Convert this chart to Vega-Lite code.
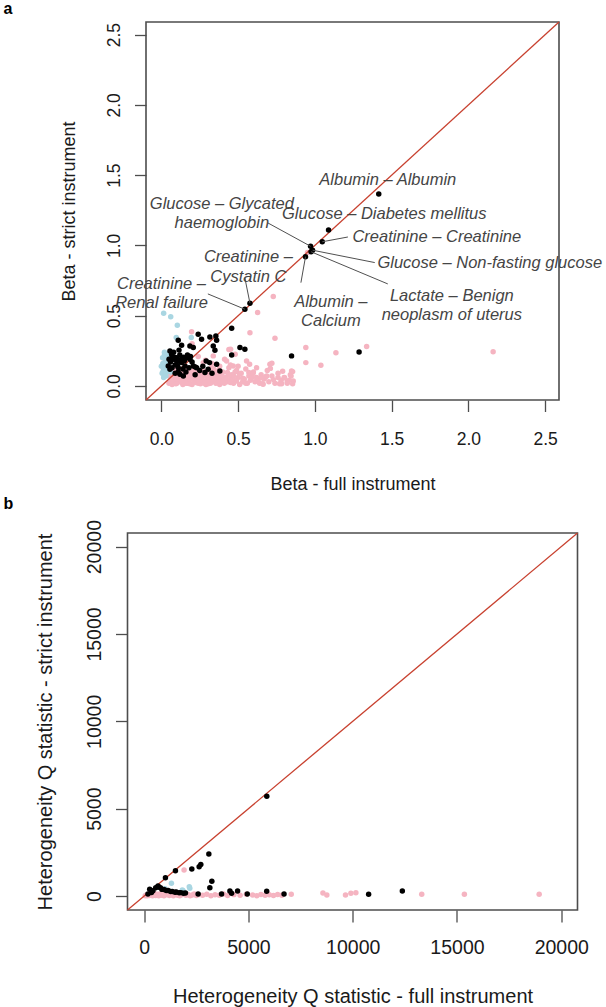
{
  "$schema": "https://vega.github.io/schema/vega-lite/v6.json",
  "background": "white",
  "padding": {"left": 2.5, "top": 0, "right": 0, "bottom": 0},
  "columns": 1,
  "bounds": "flush",
  "center": true,
  "spacing": 133,
  "config": {
    "font": "Liberation Sans",
    "view": {"stroke": "#4d4d4d", "strokeWidth": 1.6},
    "axis": {"grid": false, "domain": false, "tickColor": "#4d4d4d", "tickWidth": 1.3, "labelColor": "#1a1a1a", "titleColor": "#1a1a1a", "titleFontWeight": "normal", "labelFont": "Liberation Sans", "titleFont": "Liberation Sans", "labelOverlap": false, "labelFlush": false}
  },
  "datasets": {
    "a_points": [
      {"beta_full":0.05,"beta_strict":0.02,"group":"Full only"},{"beta_full":0.06,"beta_strict":0.05,"group":"Full only"},{"beta_full":0.07,"beta_strict":0.01,"group":"Full only"},{"beta_full":0.08,"beta_strict":0.04,"group":"Full only"},{"beta_full":0.09,"beta_strict":0.08,"group":"Full only"},{"beta_full":0.10,"beta_strict":0.02,"group":"Full only"},{"beta_full":0.11,"beta_strict":0.06,"group":"Full only"},{"beta_full":0.12,"beta_strict":0.03,"group":"Full only"},{"beta_full":0.13,"beta_strict":0.09,"group":"Full only"},{"beta_full":0.14,"beta_strict":0.01,"group":"Full only"},{"beta_full":0.15,"beta_strict":0.05,"group":"Full only"},{"beta_full":0.16,"beta_strict":0.07,"group":"Full only"},{"beta_full":0.17,"beta_strict":0.02,"group":"Full only"},{"beta_full":0.18,"beta_strict":0.04,"group":"Full only"},{"beta_full":0.19,"beta_strict":0.10,"group":"Full only"},{"beta_full":0.20,"beta_strict":0.01,"group":"Full only"},{"beta_full":0.21,"beta_strict":0.06,"group":"Full only"},{"beta_full":0.22,"beta_strict":0.03,"group":"Full only"},{"beta_full":0.23,"beta_strict":0.08,"group":"Full only"},{"beta_full":0.24,"beta_strict":0.02,"group":"Full only"},{"beta_full":0.25,"beta_strict":0.05,"group":"Full only"},{"beta_full":0.26,"beta_strict":0.11,"group":"Full only"},{"beta_full":0.27,"beta_strict":0.03,"group":"Full only"},{"beta_full":0.28,"beta_strict":0.07,"group":"Full only"},{"beta_full":0.29,"beta_strict":0.01,"group":"Full only"},{"beta_full":0.30,"beta_strict":0.04,"group":"Full only"},{"beta_full":0.31,"beta_strict":0.09,"group":"Full only"},{"beta_full":0.32,"beta_strict":0.02,"group":"Full only"},{"beta_full":0.33,"beta_strict":0.06,"group":"Full only"},{"beta_full":0.34,"beta_strict":0.12,"group":"Full only"},{"beta_full":0.35,"beta_strict":0.03,"group":"Full only"},{"beta_full":0.36,"beta_strict":0.05,"group":"Full only"},{"beta_full":0.37,"beta_strict":0.08,"group":"Full only"},{"beta_full":0.38,"beta_strict":0.01,"group":"Full only"},{"beta_full":0.39,"beta_strict":0.04,"group":"Full only"},{"beta_full":0.40,"beta_strict":0.10,"group":"Full only"},{"beta_full":0.41,"beta_strict":0.02,"group":"Full only"},{"beta_full":0.42,"beta_strict":0.06,"group":"Full only"},{"beta_full":0.43,"beta_strict":0.03,"group":"Full only"},{"beta_full":0.44,"beta_strict":0.13,"group":"Full only"},{"beta_full":0.45,"beta_strict":0.05,"group":"Full only"},{"beta_full":0.46,"beta_strict":0.08,"group":"Full only"},{"beta_full":0.47,"beta_strict":0.02,"group":"Full only"},{"beta_full":0.48,"beta_strict":0.04,"group":"Full only"},{"beta_full":0.49,"beta_strict":0.11,"group":"Full only"},{"beta_full":0.50,"beta_strict":0.06,"group":"Full only"},{"beta_full":0.51,"beta_strict":0.01,"group":"Full only"},{"beta_full":0.52,"beta_strict":0.09,"group":"Full only"},{"beta_full":0.53,"beta_strict":0.03,"group":"Full only"},{"beta_full":0.54,"beta_strict":0.05,"group":"Full only"},{"beta_full":0.55,"beta_strict":0.12,"group":"Full only"},{"beta_full":0.56,"beta_strict":0.02,"group":"Full only"},{"beta_full":0.57,"beta_strict":0.07,"group":"Full only"},{"beta_full":0.58,"beta_strict":0.04,"group":"Full only"},{"beta_full":0.60,"beta_strict":0.10,"group":"Full only"},{"beta_full":0.61,"beta_strict":0.03,"group":"Full only"},{"beta_full":0.62,"beta_strict":0.06,"group":"Full only"},{"beta_full":0.64,"beta_strict":0.02,"group":"Full only"},{"beta_full":0.65,"beta_strict":0.08,"group":"Full only"},{"beta_full":0.67,"beta_strict":0.05,"group":"Full only"},{"beta_full":0.69,"beta_strict":0.11,"group":"Full only"},{"beta_full":0.70,"beta_strict":0.03,"group":"Full only"},{"beta_full":0.72,"beta_strict":0.07,"group":"Full only"},{"beta_full":0.74,"beta_strict":0.02,"group":"Full only"},{"beta_full":0.76,"beta_strict":0.09,"group":"Full only"},{"beta_full":0.78,"beta_strict":0.04,"group":"Full only"},{"beta_full":0.80,"beta_strict":0.06,"group":"Full only"},{"beta_full":0.82,"beta_strict":0.02,"group":"Full only"},{"beta_full":0.84,"beta_strict":0.08,"group":"Full only"},
      {"beta_full":0.055,"beta_strict":0.075,"group":"Full only"},{"beta_full":0.065,"beta_strict":0.11,"group":"Full only"},{"beta_full":0.075,"beta_strict":0.03,"group":"Full only"},{"beta_full":0.085,"beta_strict":0.065,"group":"Full only"},{"beta_full":0.095,"beta_strict":0.015,"group":"Full only"},{"beta_full":0.105,"beta_strict":0.095,"group":"Full only"},{"beta_full":0.115,"beta_strict":0.045,"group":"Full only"},{"beta_full":0.125,"beta_strict":0.07,"group":"Full only"},{"beta_full":0.135,"beta_strict":0.025,"group":"Full only"},{"beta_full":0.145,"beta_strict":0.085,"group":"Full only"},{"beta_full":0.155,"beta_strict":0.035,"group":"Full only"},{"beta_full":0.165,"beta_strict":0.11,"group":"Full only"},{"beta_full":0.175,"beta_strict":0.06,"group":"Full only"},{"beta_full":0.185,"beta_strict":0.015,"group":"Full only"},{"beta_full":0.195,"beta_strict":0.075,"group":"Full only"},{"beta_full":0.205,"beta_strict":0.045,"group":"Full only"},{"beta_full":0.215,"beta_strict":0.12,"group":"Full only"},{"beta_full":0.225,"beta_strict":0.025,"group":"Full only"},{"beta_full":0.235,"beta_strict":0.055,"group":"Full only"},{"beta_full":0.245,"beta_strict":0.09,"group":"Full only"},{"beta_full":0.255,"beta_strict":0.015,"group":"Full only"},{"beta_full":0.265,"beta_strict":0.065,"group":"Full only"},{"beta_full":0.275,"beta_strict":0.105,"group":"Full only"},{"beta_full":0.285,"beta_strict":0.035,"group":"Full only"},{"beta_full":0.295,"beta_strict":0.075,"group":"Full only"},{"beta_full":0.305,"beta_strict":0.015,"group":"Full only"},{"beta_full":0.315,"beta_strict":0.055,"group":"Full only"},{"beta_full":0.325,"beta_strict":0.13,"group":"Full only"},{"beta_full":0.335,"beta_strict":0.04,"group":"Full only"},{"beta_full":0.345,"beta_strict":0.085,"group":"Full only"},{"beta_full":0.355,"beta_strict":0.02,"group":"Full only"},{"beta_full":0.365,"beta_strict":0.065,"group":"Full only"},{"beta_full":0.375,"beta_strict":0.115,"group":"Full only"},{"beta_full":0.385,"beta_strict":0.03,"group":"Full only"},{"beta_full":0.395,"beta_strict":0.075,"group":"Full only"},{"beta_full":0.41,"beta_strict":0.045,"group":"Full only"},{"beta_full":0.43,"beta_strict":0.095,"group":"Full only"},{"beta_full":0.45,"beta_strict":0.025,"group":"Full only"},{"beta_full":0.47,"beta_strict":0.07,"group":"Full only"},{"beta_full":0.49,"beta_strict":0.035,"group":"Full only"},{"beta_full":0.51,"beta_strict":0.085,"group":"Full only"},{"beta_full":0.53,"beta_strict":0.055,"group":"Full only"},{"beta_full":0.55,"beta_strict":0.02,"group":"Full only"},{"beta_full":0.57,"beta_strict":0.095,"group":"Full only"},{"beta_full":0.59,"beta_strict":0.06,"group":"Full only"},{"beta_full":0.63,"beta_strict":0.035,"group":"Full only"},{"beta_full":0.66,"beta_strict":0.015,"group":"Full only"},{"beta_full":0.68,"beta_strict":0.065,"group":"Full only"},{"beta_full":0.71,"beta_strict":0.125,"group":"Full only"},{"beta_full":0.73,"beta_strict":0.045,"group":"Full only"},{"beta_full":0.77,"beta_strict":0.015,"group":"Full only"},{"beta_full":0.79,"beta_strict":0.105,"group":"Full only"},
      {"beta_full":0.06,"beta_strict":0.09,"group":"Full only"},{"beta_full":0.08,"beta_strict":0.12,"group":"Full only"},{"beta_full":0.10,"beta_strict":0.05,"group":"Full only"},{"beta_full":0.12,"beta_strict":0.11,"group":"Full only"},{"beta_full":0.14,"beta_strict":0.06,"group":"Full only"},{"beta_full":0.16,"beta_strict":0.02,"group":"Full only"},{"beta_full":0.18,"beta_strict":0.09,"group":"Full only"},{"beta_full":0.20,"beta_strict":0.07,"group":"Full only"},{"beta_full":0.22,"beta_strict":0.10,"group":"Full only"},{"beta_full":0.24,"beta_strict":0.04,"group":"Full only"},{"beta_full":0.26,"beta_strict":0.08,"group":"Full only"},{"beta_full":0.28,"beta_strict":0.02,"group":"Full only"},{"beta_full":0.30,"beta_strict":0.11,"group":"Full only"},{"beta_full":0.32,"beta_strict":0.07,"group":"Full only"},{"beta_full":0.34,"beta_strict":0.05,"group":"Full only"},{"beta_full":0.36,"beta_strict":0.10,"group":"Full only"},{"beta_full":0.38,"beta_strict":0.07,"group":"Full only"},{"beta_full":0.40,"beta_strict":0.03,"group":"Full only"},{"beta_full":0.44,"beta_strict":0.08,"group":"Full only"},{"beta_full":0.48,"beta_strict":0.10,"group":"Full only"},
      {"beta_full":0.197,"beta_strict":0.386,"group":"Full only"},{"beta_full":0.729,"beta_strict":0.636,"group":"Full only"},{"beta_full":0.627,"beta_strict":0.522,"group":"Full only"},{"beta_full":0.577,"beta_strict":0.379,"group":"Full only"},{"beta_full":0.740,"beta_strict":0.339,"group":"Full only"},{"beta_full":0.451,"beta_strict":0.261,"group":"Full only"},{"beta_full":0.555,"beta_strict":0.178,"group":"Full only"},{"beta_full":0.707,"beta_strict":0.154,"group":"Full only"},{"beta_full":0.620,"beta_strict":0.130,"group":"Full only"},{"beta_full":0.848,"beta_strict":0.107,"group":"Full only"},{"beta_full":0.859,"beta_strict":0.036,"group":"Full only"},{"beta_full":0.952,"beta_strict":0.949,"group":"Full only"},{"beta_full":0.941,"beta_strict":0.273,"group":"Full only"},{"beta_full":1.137,"beta_strict":0.237,"group":"Full only"},{"beta_full":1.337,"beta_strict":0.280,"group":"Full only"},{"beta_full":0.941,"beta_strict":0.166,"group":"Full only"},{"beta_full":1.039,"beta_strict":0.147,"group":"Full only"},{"beta_full":0.855,"beta_strict":0.102,"group":"Full only"},{"beta_full":0.845,"beta_strict":0.070,"group":"Full only"},{"beta_full":0.833,"beta_strict":0.041,"group":"Full only"},{"beta_full":0.855,"beta_strict":0.016,"group":"Full only"},{"beta_full":0.820,"beta_strict":0.030,"group":"Full only"},{"beta_full":2.161,"beta_strict":0.244,"group":"Full only"},{"beta_full":0.803,"beta_strict":0.059,"group":"Full only"},{"beta_full":0.720,"beta_strict":0.161,"group":"Full only"},{"beta_full":0.575,"beta_strict":0.154,"group":"Full only"},{"beta_full":0.412,"beta_strict":0.190,"group":"Full only"},{"beta_full":0.288,"beta_strict":0.183,"group":"Full only"},{"beta_full":0.481,"beta_strict":0.226,"group":"Full only"},{"beta_full":0.338,"beta_strict":0.214,"group":"Full only"},{"beta_full":0.273,"beta_strict":0.166,"group":"Full only"},{"beta_full":0.425,"beta_strict":0.178,"group":"Full only"},{"beta_full":0.468,"beta_strict":0.142,"group":"Full only"},{"beta_full":0.598,"beta_strict":0.088,"group":"Full only"},{"beta_full":0.653,"beta_strict":0.059,"group":"Full only"},{"beta_full":0.686,"beta_strict":0.071,"group":"Full only"},{"beta_full":0.663,"beta_strict":0.012,"group":"Full only"},{"beta_full":0.760,"beta_strict":0.060,"group":"Full only"},{"beta_full":0.783,"beta_strict":0.016,"group":"Full only"},{"beta_full":0.330,"beta_strict":0.160,"group":"Full only"},{"beta_full":0.380,"beta_strict":0.140,"group":"Full only"},{"beta_full":0.450,"beta_strict":0.150,"group":"Full only"},{"beta_full":0.500,"beta_strict":0.140,"group":"Full only"},{"beta_full":0.240,"beta_strict":0.210,"group":"Full only"},{"beta_full":0.440,"beta_strict":0.260,"group":"Full only"},{"beta_full":0.200,"beta_strict":0.300,"group":"Full only"},
      {"beta_full":0.015,"beta_strict":0.517,"group":"Strict only"},{"beta_full":0.061,"beta_strict":0.493,"group":"Strict only"},{"beta_full":0.104,"beta_strict":0.432,"group":"Strict only"},{"beta_full":0.097,"beta_strict":0.344,"group":"Strict only"},{"beta_full":0.195,"beta_strict":0.344,"group":"Strict only"},{"beta_full":0.008,"beta_strict":0.201,"group":"Strict only"},{"beta_full":0.023,"beta_strict":0.130,"group":"Strict only"},{"beta_full":0.012,"beta_strict":0.107,"group":"Strict only"},{"beta_full":0.02,"beta_strict":0.22,"group":"Strict only"},{"beta_full":0.03,"beta_strict":0.19,"group":"Strict only"},{"beta_full":0.01,"beta_strict":0.16,"group":"Strict only"},{"beta_full":0.025,"beta_strict":0.17,"group":"Strict only"},{"beta_full":0.04,"beta_strict":0.20,"group":"Strict only"},{"beta_full":0.005,"beta_strict":0.09,"group":"Strict only"},{"beta_full":0.02,"beta_strict":0.08,"group":"Strict only"},{"beta_full":0.035,"beta_strict":0.10,"group":"Strict only"},{"beta_full":0.015,"beta_strict":0.06,"group":"Strict only"},{"beta_full":0.03,"beta_strict":0.07,"group":"Strict only"},{"beta_full":0.05,"beta_strict":0.23,"group":"Strict only"},{"beta_full":0.04,"beta_strict":0.15,"group":"Strict only"},{"beta_full":0.06,"beta_strict":0.10,"group":"Strict only"},{"beta_full":0.02,"beta_strict":0.24,"group":"Strict only"},{"beta_full":0.0,"beta_strict":0.14,"group":"Strict only"},{"beta_full":0.045,"beta_strict":0.12,"group":"Strict only"},
      {"beta_full":1.416,"beta_strict":1.366,"group":"Both"},{"beta_full":1.089,"beta_strict":1.110,"group":"Both"},{"beta_full":1.048,"beta_strict":1.026,"group":"Both"},{"beta_full":0.972,"beta_strict":0.994,"group":"Both"},{"beta_full":0.985,"beta_strict":0.966,"group":"Both"},{"beta_full":0.975,"beta_strict":0.955,"group":"Both"},{"beta_full":0.939,"beta_strict":0.920,"group":"Both"},{"beta_full":0.577,"beta_strict":0.589,"group":"Both"},{"beta_full":0.544,"beta_strict":0.546,"group":"Both"},
      {"beta_full":0.458,"beta_strict":0.411,"group":"Both"},{"beta_full":0.512,"beta_strict":0.273,"group":"Both"},{"beta_full":0.544,"beta_strict":0.261,"group":"Both"},{"beta_full":0.458,"beta_strict":0.221,"group":"Both"},{"beta_full":0.848,"beta_strict":0.214,"group":"Both"},{"beta_full":1.288,"beta_strict":0.242,"group":"Both"},{"beta_full":0.110,"beta_strict":0.325,"group":"Both"},{"beta_full":0.132,"beta_strict":0.290,"group":"Both"},{"beta_full":0.240,"beta_strict":0.368,"group":"Both"},{"beta_full":0.262,"beta_strict":0.332,"group":"Both"},{"beta_full":0.316,"beta_strict":0.349,"group":"Both"},{"beta_full":0.355,"beta_strict":0.356,"group":"Both"},{"beta_full":0.360,"beta_strict":0.325,"group":"Both"},{"beta_full":0.186,"beta_strict":0.285,"group":"Both"},{"beta_full":0.208,"beta_strict":0.273,"group":"Both"},{"beta_full":0.338,"beta_strict":0.285,"group":"Both"},{"beta_full":0.349,"beta_strict":0.254,"group":"Both"},{"beta_full":0.056,"beta_strict":0.249,"group":"Both"},{"beta_full":0.067,"beta_strict":0.226,"group":"Both"},{"beta_full":0.078,"beta_strict":0.190,"group":"Both"},{"beta_full":0.100,"beta_strict":0.178,"group":"Both"},{"beta_full":0.132,"beta_strict":0.166,"group":"Both"},{"beta_full":0.165,"beta_strict":0.201,"group":"Both"},{"beta_full":0.186,"beta_strict":0.190,"group":"Both"},{"beta_full":0.045,"beta_strict":0.142,"group":"Both"},{"beta_full":0.056,"beta_strict":0.119,"group":"Both"},{"beta_full":0.110,"beta_strict":0.130,"group":"Both"},{"beta_full":0.121,"beta_strict":0.083,"group":"Both"},{"beta_full":0.143,"beta_strict":0.071,"group":"Both"},{"beta_full":0.154,"beta_strict":0.142,"group":"Both"},{"beta_full":0.208,"beta_strict":0.142,"group":"Both"},{"beta_full":0.230,"beta_strict":0.130,"group":"Both"},{"beta_full":0.305,"beta_strict":0.119,"group":"Both"},{"beta_full":0.284,"beta_strict":0.095,"group":"Both"},{"beta_full":0.360,"beta_strict":0.154,"group":"Both"},{"beta_full":0.381,"beta_strict":0.107,"group":"Both"},{"beta_full":0.292,"beta_strict":0.178,"group":"Both"},{"beta_full":0.314,"beta_strict":0.166,"group":"Both"},{"beta_full":0.221,"beta_strict":0.135,"group":"Both"},{"beta_full":0.06,"beta_strict":0.17,"group":"Both"},{"beta_full":0.07,"beta_strict":0.21,"group":"Both"},{"beta_full":0.09,"beta_strict":0.15,"group":"Both"},{"beta_full":0.10,"beta_strict":0.20,"group":"Both"},{"beta_full":0.12,"beta_strict":0.22,"group":"Both"},{"beta_full":0.13,"beta_strict":0.19,"group":"Both"},{"beta_full":0.15,"beta_strict":0.18,"group":"Both"},{"beta_full":0.17,"beta_strict":0.22,"group":"Both"},{"beta_full":0.19,"beta_strict":0.21,"group":"Both"},{"beta_full":0.20,"beta_strict":0.17,"group":"Both"},{"beta_full":0.08,"beta_strict":0.24,"group":"Both"},{"beta_full":0.11,"beta_strict":0.10,"group":"Both"},{"beta_full":0.14,"beta_strict":0.12,"group":"Both"},{"beta_full":0.16,"beta_strict":0.10,"group":"Both"},{"beta_full":0.18,"beta_strict":0.13,"group":"Both"},{"beta_full":0.07,"beta_strict":0.13,"group":"Both"},{"beta_full":0.09,"beta_strict":0.09,"group":"Both"},{"beta_full":0.25,"beta_strict":0.11,"group":"Both"},{"beta_full":0.27,"beta_strict":0.14,"group":"Both"},{"beta_full":0.22,"beta_strict":0.08,"group":"Both"},{"beta_full":0.33,"beta_strict":0.09,"group":"Both"},{"beta_full":0.115,"beta_strict":0.255,"group":"Both"},{"beta_full":0.085,"beta_strict":0.205,"group":"Both"},{"beta_full":0.05,"beta_strict":0.19,"group":"Both"},{"beta_full":0.105,"beta_strict":0.145,"group":"Both"},{"beta_full":0.145,"beta_strict":0.205,"group":"Both"},{"beta_full":0.125,"beta_strict":0.175,"group":"Both"}
    ],
    "a_labels": [
      {"label":"Albumin – Albumin","label_x":1.475,"label_y":1.466,"point_x":1.416,"point_y":1.366,"leader_x":null,"leader_y":null},
      {"label":"Glucose – Glycated\nhaemoglobin","label_x":0.394,"label_y":1.295,"point_x":0.972,"point_y":0.994,"leader_x":0.694,"leader_y":1.160},
      {"label":"Glucose – Diabetes mellitus","label_x":1.452,"label_y":1.224,"point_x":1.089,"point_y":1.110,"leader_x":null,"leader_y":null},
      {"label":"Creatinine – Creatinine","label_x":1.794,"label_y":1.060,"point_x":1.048,"point_y":1.026,"leader_x":1.215,"leader_y":1.060},
      {"label":"Creatinine –\nCystatin C","label_x":0.567,"label_y":0.915,"point_x":0.577,"point_y":0.589,"leader_x":0.544,"leader_y":0.769},
      {"label":"Glucose – Non-fasting glucose","label_x":2.139,"label_y":0.878,"point_x":0.985,"point_y":0.966,"leader_x":1.390,"leader_y":0.878},
      {"label":"Creatinine –\nRenal failure","label_x":0.001,"label_y":0.726,"point_x":0.544,"point_y":0.546,"leader_x":0.303,"leader_y":0.655},
      {"label":"Albumin –\nCalcium","label_x":1.104,"label_y":0.598,"point_x":0.939,"point_y":0.920,"leader_x":0.909,"leader_y":0.735},
      {"label":"Lactate – Benign\nneoplasm of uterus","label_x":1.892,"label_y":0.641,"point_x":0.975,"point_y":0.955,"leader_x":1.475,"leader_y":0.726}
    ],
    "b_points": [
      {"q_full":50,"q_strict":20,"group":"Full only"},{"q_full":100,"q_strict":60,"group":"Full only"},{"q_full":150,"q_strict":10,"group":"Full only"},{"q_full":200,"q_strict":90,"group":"Full only"},{"q_full":250,"q_strict":30,"group":"Full only"},{"q_full":300,"q_strict":120,"group":"Full only"},{"q_full":350,"q_strict":50,"group":"Full only"},{"q_full":400,"q_strict":10,"group":"Full only"},{"q_full":450,"q_strict":80,"group":"Full only"},{"q_full":500,"q_strict":140,"group":"Full only"},{"q_full":550,"q_strict":30,"group":"Full only"},{"q_full":600,"q_strict":60,"group":"Full only"},{"q_full":650,"q_strict":100,"group":"Full only"},{"q_full":700,"q_strict":20,"group":"Full only"},{"q_full":750,"q_strict":70,"group":"Full only"},{"q_full":800,"q_strict":150,"group":"Full only"},{"q_full":850,"q_strict":40,"group":"Full only"},{"q_full":900,"q_strict":90,"group":"Full only"},{"q_full":950,"q_strict":10,"group":"Full only"},{"q_full":1000,"q_strict":60,"group":"Full only"},{"q_full":1100,"q_strict":120,"group":"Full only"},{"q_full":1200,"q_strict":30,"group":"Full only"},{"q_full":1300,"q_strict":80,"group":"Full only"},{"q_full":1400,"q_strict":20,"group":"Full only"},{"q_full":1500,"q_strict":100,"group":"Full only"},{"q_full":1600,"q_strict":50,"group":"Full only"},{"q_full":1700,"q_strict":10,"group":"Full only"},{"q_full":1800,"q_strict":70,"group":"Full only"},{"q_full":1900,"q_strict":130,"group":"Full only"},{"q_full":2000,"q_strict":40,"group":"Full only"},{"q_full":2100,"q_strict":90,"group":"Full only"},{"q_full":2200,"q_strict":20,"group":"Full only"},{"q_full":2300,"q_strict":60,"group":"Full only"},{"q_full":2400,"q_strict":110,"group":"Full only"},{"q_full":2500,"q_strict":30,"group":"Full only"},{"q_full":2600,"q_strict":80,"group":"Full only"},{"q_full":2800,"q_strict":50,"group":"Full only"},{"q_full":3000,"q_strict":100,"group":"Full only"},{"q_full":3200,"q_strict":20,"group":"Full only"},{"q_full":3400,"q_strict":70,"group":"Full only"},{"q_full":3600,"q_strict":40,"group":"Full only"},{"q_full":3800,"q_strict":110,"group":"Full only"},{"q_full":4000,"q_strict":30,"group":"Full only"},{"q_full":4300,"q_strict":80,"group":"Full only"},{"q_full":4600,"q_strict":40,"group":"Full only"},{"q_full":4900,"q_strict":100,"group":"Full only"},{"q_full":5200,"q_strict":60,"group":"Full only"},{"q_full":5400,"q_strict":20,"group":"Full only"},{"q_full":5600,"q_strict":90,"group":"Full only"},{"q_full":5800,"q_strict":40,"group":"Full only"},{"q_full":6000,"q_strict":70,"group":"Full only"},{"q_full":6200,"q_strict":30,"group":"Full only"},{"q_full":6400,"q_strict":90,"group":"Full only"},{"q_full":6600,"q_strict":50,"group":"Full only"},{"q_full":7053,"q_strict":97,"group":"Full only"},{"q_full":8572,"q_strict":171,"group":"Full only"},{"q_full":8760,"q_strict":57,"group":"Full only"},{"q_full":9654,"q_strict":57,"group":"Full only"},{"q_full":9913,"q_strict":154,"group":"Full only"},{"q_full":10153,"q_strict":189,"group":"Full only"},{"q_full":13310,"q_strict":97,"group":"Full only"},{"q_full":15355,"q_strict":97,"group":"Full only"},{"q_full":18942,"q_strict":97,"group":"Full only"},{"q_full":1913,"q_strict":1486,"group":"Full only"},
      {"q_full":1306,"q_strict":726,"group":"Strict only"},{"q_full":2188,"q_strict":440,"group":"Strict only"},{"q_full":1865,"q_strict":303,"group":"Strict only"},{"q_full":2163,"q_strict":531,"group":"Strict only"},{"q_full":1827,"q_strict":343,"group":"Strict only"},{"q_full":1000,"q_strict":420,"group":"Strict only"},
      {"q_full":5880,"q_strict":5714,"group":"Both"},{"q_full":3101,"q_strict":2400,"group":"Both"},{"q_full":2716,"q_strict":1811,"group":"Both"},{"q_full":2636,"q_strict":1674,"group":"Both"},{"q_full":2284,"q_strict":1543,"group":"Both"},{"q_full":1500,"q_strict":1447,"group":"Both"},{"q_full":1019,"q_strict":1049,"group":"Both"},{"q_full":3245,"q_strict":840,"group":"Both"},{"q_full":3149,"q_strict":474,"group":"Both"},{"q_full":663,"q_strict":571,"group":"Both"},{"q_full":553,"q_strict":474,"group":"Both"},{"q_full":856,"q_strict":380,"group":"Both"},{"q_full":700,"q_strict":520,"group":"Both"},{"q_full":780,"q_strict":470,"group":"Both"},{"q_full":950,"q_strict":370,"group":"Both"},{"q_full":1060,"q_strict":320,"group":"Both"},{"q_full":1150,"q_strict":310,"group":"Both"},{"q_full":1270,"q_strict":260,"group":"Both"},{"q_full":1350,"q_strict":265,"group":"Both"},{"q_full":1480,"q_strict":215,"group":"Both"},{"q_full":1540,"q_strict":225,"group":"Both"},{"q_full":1680,"q_strict":185,"group":"Both"},{"q_full":1760,"q_strict":195,"group":"Both"},{"q_full":1880,"q_strict":160,"group":"Both"},{"q_full":1980,"q_strict":175,"group":"Both"},{"q_full":2587,"q_strict":114,"group":"Both"},{"q_full":3710,"q_strict":114,"group":"Both"},{"q_full":4111,"q_strict":286,"group":"Both"},{"q_full":4192,"q_strict":154,"group":"Both"},{"q_full":4480,"q_strict":286,"group":"Both"},{"q_full":4944,"q_strict":114,"group":"Both"},{"q_full":5875,"q_strict":268,"group":"Both"},{"q_full":6707,"q_strict":114,"group":"Both"},{"q_full":10764,"q_strict":97,"group":"Both"},{"q_full":12380,"q_strict":286,"group":"Both"},{"q_full":264,"q_strict":383,"group":"Both"},{"q_full":420,"q_strict":300,"group":"Both"},{"q_full":180,"q_strict":120,"group":"Both"},{"q_full":350,"q_strict":200,"group":"Both"}
    ],
    "unit": [{}]
  },
  "concat": [
    {
      "width": 413,
      "height": 378,
      "title": {"text": "a", "anchor": "start", "frame": "group", "fontSize": 16, "fontWeight": "bold", "color": "#000000", "font": "Liberation Sans", "dx": -142.5, "dy": 17, "offset": 8, "baseline": "alphabetic"},
      "layer": [
        {
          "data": {"name": "a_points"},
          "transform": [{"filter": "datum.group !== 'Both'"}],
          "mark": {"type": "circle", "opacity": 1},
          "encoding": {
            "x": {"field": "beta_full", "type": "quantitative", "scale": {"domain": [-0.1, 2.59], "nice": false, "zero": false},
              "axis": {"title": "Beta - full instrument", "values": [0, 0.5, 1, 1.5, 2, 2.5], "format": ".1f", "tickSize": 11.5, "labelFontSize": 17.5, "labelPadding": 19, "titleFontSize": 18, "titleX": 206.5, "titleY": 84, "titleBaseline": "middle", "titleAlign": "center"}},
            "y": {"field": "beta_strict", "type": "quantitative", "scale": {"domain": [-0.1, 2.59], "nice": false, "zero": false},
              "axis": {"title": "Beta - strict instrument", "values": [0, 0.5, 1, 1.5, 2, 2.5], "format": ".1f", "tickSize": 11.5, "labelFontSize": 17.5, "labelAngle": 270, "labelAlign": "center", "labelBaseline": "bottom", "labelPadding": 11.5, "titleFontSize": 18, "titleAngle": 270, "titleX": -76.3, "titleY": 189, "titleBaseline": "middle", "titleAlign": "center"}},
            "color": {"field": "group", "type": "nominal", "scale": {"domain": ["Full only", "Strict only", "Both"], "range": ["#F5B4C1", "#A9D6E2", "#000000"]}, "legend": null},
            "size": {"field": "group", "type": "ordinal", "scale": {"domain": ["Full only", "Strict only", "Both"], "range": [30, 30, 24]}, "legend": null}
          }
        },
        {
          "data": {"name": "unit"},
          "mark": {"type": "rule", "color": "#C8412F", "strokeWidth": 1.3},
          "encoding": {
            "x": {"datum": -0.1, "type": "quantitative"},
            "y": {"datum": -0.1, "type": "quantitative"},
            "x2": {"datum": 2.59},
            "y2": {"datum": 2.59}
          }
        },
        {
          "data": {"name": "a_points"},
          "transform": [{"filter": "datum.group === 'Both'"}],
          "mark": {"type": "circle", "opacity": 1},
          "encoding": {
            "x": {"field": "beta_full", "type": "quantitative"},
            "y": {"field": "beta_strict", "type": "quantitative"},
            "color": {"field": "group", "type": "nominal", "legend": null},
            "size": {"field": "group", "type": "ordinal", "legend": null}
          }
        },
        {
          "data": {"name": "a_labels"},
          "transform": [{"filter": "datum.leader_x !== null"}],
          "mark": {"type": "rule", "color": "#505050", "strokeWidth": 1},
          "encoding": {
            "x": {"field": "point_x", "type": "quantitative"},
            "y": {"field": "point_y", "type": "quantitative"},
            "x2": {"field": "leader_x"},
            "y2": {"field": "leader_y"}
          }
        },
        {
          "data": {"name": "a_labels"},
          "mark": {"type": "text", "font": "Liberation Sans", "fontStyle": "italic", "fontSize": 16.5, "color": "#454545", "align": "center", "baseline": "middle", "lineBreak": "\n", "lineHeight": 19.5},
          "encoding": {
            "x": {"field": "label_x", "type": "quantitative"},
            "y": {"field": "label_y", "type": "quantitative"},
            "text": {"field": "label", "type": "nominal"}
          }
        }
      ]
    },
    {
      "width": 450,
      "height": 377,
      "title": {"text": "b", "anchor": "start", "frame": "group", "fontSize": 16, "fontWeight": "bold", "color": "#000000", "font": "Liberation Sans", "dx": -124, "dy": 17, "offset": 12, "baseline": "alphabetic"},
      "layer": [
        {
          "data": {"name": "b_points"},
          "transform": [{"filter": "datum.group !== 'Both'"}],
          "mark": {"type": "circle", "opacity": 1},
          "encoding": {
            "x": {"field": "q_full", "type": "quantitative", "scale": {"domain": [-800, 20780], "nice": false, "zero": false},
              "axis": {"title": "Heterogeneity Q statistic - full instrument", "values": [0, 5000, 10000, 15000, 20000], "format": "d", "tickSize": 12, "labelFontSize": 19.5, "labelPadding": 16.5, "titleFontSize": 20, "titleX": 225, "titleY": 86, "titleBaseline": "middle", "titleAlign": "center"}},
            "y": {"field": "q_strict", "type": "quantitative", "scale": {"domain": [-800, 20780], "nice": false, "zero": false},
              "axis": {"title": "Heterogeneity Q statistic - strict instrument", "values": [0, 5000, 10000, 15000, 20000], "format": "d", "tickSize": 12, "labelFontSize": 19.5, "labelAngle": 270, "labelAlign": "center", "labelBaseline": "bottom", "labelPadding": 11.5, "titleFontSize": 20, "titleAngle": 270, "titleX": -82.5, "titleY": 188.5, "titleBaseline": "middle", "titleAlign": "center"}},
            "color": {"field": "group", "type": "nominal", "scale": {"domain": ["Full only", "Strict only", "Both"], "range": ["#F5B4C1", "#A9D6E2", "#000000"]}, "legend": null},
            "size": {"field": "group", "type": "ordinal", "scale": {"domain": ["Full only", "Strict only", "Both"], "range": [34, 34, 30]}, "legend": null}
          }
        },
        {
          "data": {"name": "unit"},
          "mark": {"type": "rule", "color": "#C8412F", "strokeWidth": 1.3},
          "encoding": {
            "x": {"datum": -800, "type": "quantitative"},
            "y": {"datum": -800, "type": "quantitative"},
            "x2": {"datum": 20780},
            "y2": {"datum": 20780}
          }
        },
        {
          "data": {"name": "b_points"},
          "transform": [{"filter": "datum.group === 'Both'"}],
          "mark": {"type": "circle", "opacity": 1},
          "encoding": {
            "x": {"field": "q_full", "type": "quantitative"},
            "y": {"field": "q_strict", "type": "quantitative"},
            "color": {"field": "group", "type": "nominal", "legend": null},
            "size": {"field": "group", "type": "ordinal", "legend": null}
          }
        }
      ]
    }
  ]
}
